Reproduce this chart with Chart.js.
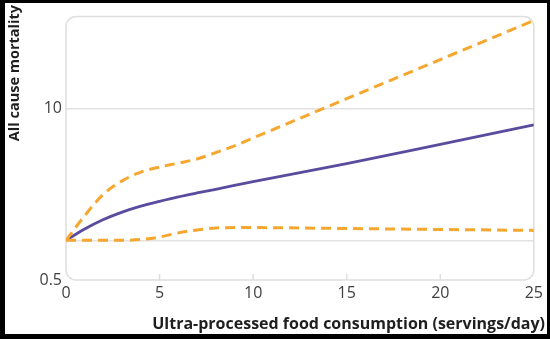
<!DOCTYPE html>
<html>
<head>
<meta charset="utf-8">
<script src="https://cdn.jsdelivr.net/npm/chart.js@4.4.1/dist/chart.umd.min.js"></script>
<style>
	html, body { margin: 0; padding: 0; background: #000; }
	body { width: 550px; height: 339px; position: relative; overflow: hidden; }
	#mortality-chart { position: absolute; left: 5px; top: 3px; background: #fff; }
</style>
</head>
<body>
<canvas id="mortality-chart" width="542" height="331"></canvas>
<script>
// servings/day and hazard ratio curve with its 95% band
var servings = [0, 1, 2, 3, 4, 5, 6, 7, 8, 9, 10, 15, 20, 25];
var hrEstimate = [1, 1.22, 1.44, 1.64, 1.82, 1.98, 2.14, 2.29, 2.44, 2.61, 2.79, 3.82, 5.35, 7.52];
var hrUpper = [1, 1.54, 2.24, 2.83, 3.3, 3.6, 3.86, 4.15, 4.63, 5.22, 5.99, 11.9, 23.6, 46.7];
var hrLower = [1, 1, 1, 1, 1.015, 1.06, 1.14, 1.2, 1.24, 1.25, 1.25, 1.23, 1.21, 1.19];
var yTicks = [0.5, 1, 10];
var xTicks = [0, 5, 10, 15, 20, 25];
var xTitle = 'Ultra-processed food consumption (servings/day)';
var yTitle = 'All cause mortality';

var PURPLE = '#5b4b9f';
var ORANGE = '#f6a72f';
var FONT = '"Open Sans", "Noto Sans", sans-serif';

function toPoints(ys){
	return servings.map(function(x, i){ return {x: x, y: ys[i]} })
}

// rounded frame round the plot, small ticks on its bottom edge, axis titles
var plotFrame = {
	id: 'plotFrame',
	beforeDatasetsDraw: function(chart){
		var a = chart.chartArea;
		var ctx = chart.ctx;
		var xs = chart.scales.x;
		ctx.save();
		ctx.strokeStyle = '#dedede';
		ctx.lineWidth = 1.5;
		ctx.beginPath();
		ctx.roundRect(a.left, a.top, a.right - a.left, a.bottom - a.top, 10);
		ctx.stroke();
		xTicks.forEach(function(v){
			if(v == 0 || v == 25) return;
			var px = xs.getPixelForValue(v);
			ctx.beginPath();
			ctx.moveTo(px, a.bottom);
			ctx.lineTo(px, a.bottom - 6);
			ctx.stroke();
		})
		ctx.restore();
	},
	afterDraw: function(chart){
		var ctx = chart.ctx;
		ctx.save();
		ctx.fillStyle = '#1e1e1e';
		ctx.textBaseline = 'alphabetic';
		ctx.textAlign = 'right';
		// x title runs out to the right edge, past the last tick
		ctx.font = 'bold 16px ' + FONT;
		ctx.fillText(xTitle, chart.width - 2, 326);
		// y title, rotated and hung from the top
		ctx.translate(14, 2);
		ctx.rotate(-Math.PI / 2);
		ctx.font = 'bold 14.5px ' + FONT;
		ctx.fillText(yTitle, 0, 0);
		ctx.restore();
	}
}

var config = {
	type: 'line',
	data: {
		datasets: [
			{
				data: toPoints(hrLower),
				borderColor: ORANGE,
				borderWidth: 3,
				borderDash: [10, 6],
				pointRadius: 0,
				cubicInterpolationMode: 'monotone'
			},
			{
				data: toPoints(hrUpper),
				borderColor: ORANGE,
				borderWidth: 3,
				borderDash: [10, 6],
				pointRadius: 0,
				cubicInterpolationMode: 'monotone'
			},
			{
				data: toPoints(hrEstimate),
				borderColor: PURPLE,
				borderWidth: 2.8,
				pointRadius: 0,
				cubicInterpolationMode: 'monotone'
			}
		]
	},
	options: {
		responsive: false,
		animation: false,
		devicePixelRatio: 1,
		layout: { padding: { top: 9, right: 11, left: 0, bottom: 0 } },
		plugins: {
			legend: { display: false },
			tooltip: { enabled: false }
		},
		scales: {
			x: {
				type: 'linear',
				min: 0,
				max: 25,
				afterFit: function(s){ s.height = 54 },
				afterBuildTicks: function(s){ s.ticks = xTicks.map(function(v){ return {value: v} }) },
				grid: { display: false, drawTicks: false },
				border: { display: false },
				ticks: {
					padding: 4,
					color: '#404040',
					font: { family: FONT, size: 16 },
					maxRotation: 0
				}
			},
			y: {
				type: 'logarithmic',
				min: 0.5,
				max: 50,
				afterFit: function(s){ s.width = 61 },
				afterBuildTicks: function(s){ s.ticks = yTicks.map(function(v){ return {value: v} }) },
				grid: {
					drawTicks: false,
					lineWidth: 1.5,
					color: function(c){ return c.tick && c.tick.value == 0.5 ? 'rgba(0,0,0,0)' : '#e2e2e2' }
				},
				border: { display: false },
				ticks: {
					padding: 4,
					color: '#404040',
					font: { family: FONT, size: 16 },
					callback: function(v){ return v == 1 ? '' : String(v) }
				}
			}
		}
	},
	plugins: [plotFrame]
}

var mortalityChart = new Chart(document.getElementById('mortality-chart'), config);
</script>
</body>
</html>
